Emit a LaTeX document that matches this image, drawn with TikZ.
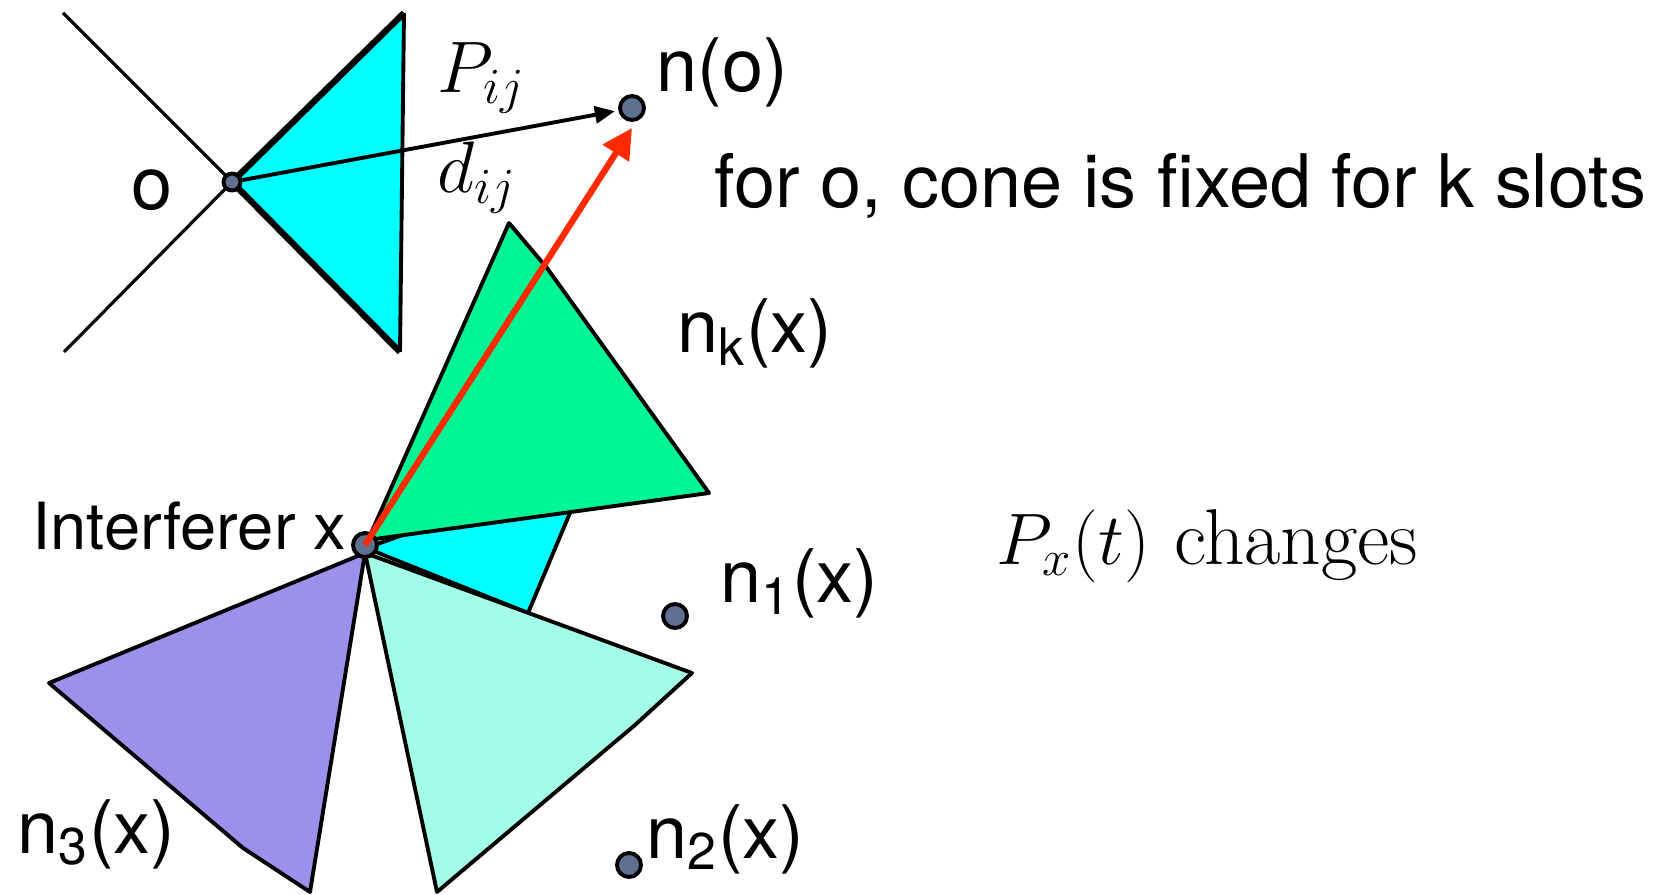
\documentclass[tikz,border=0pt]{standalone}
\usepackage{amsmath}
\usepackage{fontspec}
\newfontfamily\heros{TeX Gyre Heros}
\usetikzlibrary{arrows.meta}

\definecolor{conecyan}{HTML}{00FFFF}
\definecolor{conegreen}{HTML}{00F595}
\definecolor{coneaqua}{HTML}{A3FCE6}
\definecolor{conepurple}{HTML}{9B90EA}
\definecolor{ptgray}{HTML}{607090}
\definecolor{linkred}{HTML}{FF2A00}

\tikzset{
  pt/.style={circle, draw, fill=ptgray, line width=1.1pt, inner sep=0pt, minimum size=0.24cm},
  cone/.style={draw, line width=1.1pt, line join=round},
  lbl/.style={inner sep=0pt, anchor=base west, font=\heros\fontsize{21}{25}\selectfont},
  mlbl/.style={inner sep=0pt, anchor=base west, font=\fontsize{20}{24}\selectfont},
}

\begin{document}
\begin{tikzpicture}[x=0.01cm, y=-0.01cm]
\useasboundingbox (0,0) rectangle (1671,895);
\coordinate (oc) at (232,182);

% cone of o
\fill[conecyan] (oc) -- (404,13) -- (400,352) -- cycle;
\draw[line width=0.9pt] (63,13) -- (oc);
\draw[line width=0.9pt] (64,352) -- (oc);
\draw[line width=1.8pt] (400,352) -- (oc) -- (404,13);
\draw[line width=1.1pt] (404,13) -- (400,352);

\node (o) [pt, minimum size=0.17cm] at (oc) {};
\node (no) [pt] at (632,108) {};
\node (n1) [pt] at (675,616) {};
\node (n2) [pt] at (629,865) {};

\draw [line width=1.1pt, -{Triangle[length=0.2cm, width=0.17cm]}, shorten >=1pt] (o) -- (no);

% cones of x
\draw[cone, fill=conecyan] (366,548) -- (400,536) -- (588,470) -- (528,613) -- cycle;
\draw[cone, fill=conegreen] (368,540) -- (509,223) -- (547,268) -- (709,493) -- cycle;
\draw[cone, fill=coneaqua] (365,553) -- (692,673) -- (635,725) -- (437,892) -- cycle;
\draw[cone, fill=conepurple] (365,553) -- (49,683) -- (243,848) -- (310,892) -- cycle;
\node (x) [pt] at (365,545) {};

\draw [linkred, line width=1.8pt, -{Triangle[length=0.3cm, width=0.3cm]}] (x.center) -- ([yshift=-0.06cm]no.south);

% labels
\node (lo) [lbl, anchor=base] at (152,210) {o};
\node (lno) [lbl] at (656,92) {n(o)};
\node (lp) [mlbl] at (437,93) {$P_{ij}$};
\node (ld) [mlbl] at (437,193) {$d_{ij}$};
\node (lfix) [lbl] at (714,208) {for o, cone is fixed for k slots};
\node (lnk) [lbl] at (677,353) {n\textsubscript{k}(x)};
\node (lint) [lbl, font=\heros\fontsize{18.5}{22}\selectfont] at (32,550) {Interferer x};
\node (ln1) [lbl] at (720,603) {n\textsubscript{1}(x)};
\node (ln2) [lbl] at (646,858) {n\textsubscript{2}(x)};
\node (ln3) [lbl] at (17,853) {n\textsubscript{3}(x)};
\node (lpx) [mlbl, font=\fontsize{22.5}{27}\selectfont] at (996,565) {$P_x(t)$ changes};
\end{tikzpicture}
\end{document}
